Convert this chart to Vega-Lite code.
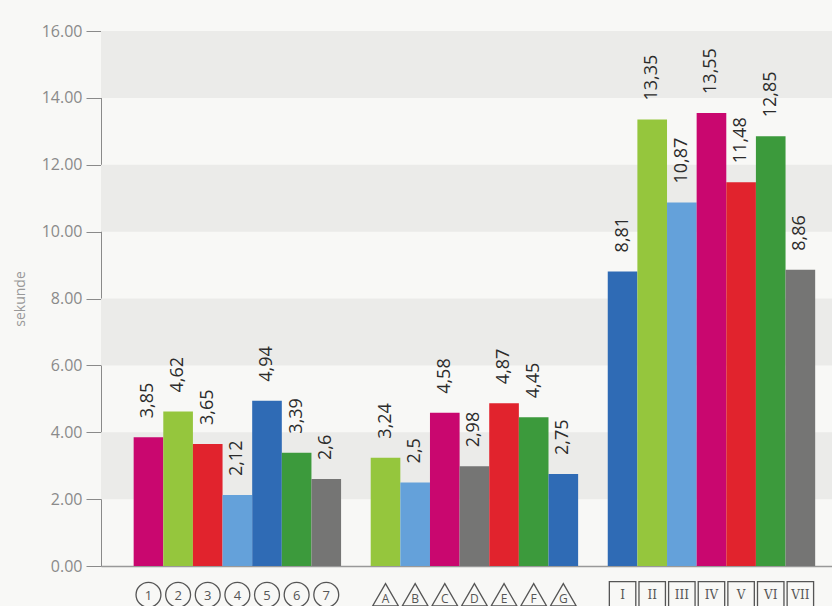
{
  "$schema": "https://vega.github.io/schema/vega-lite/v6.json",
  "width": 731,
  "height": 535,
  "autosize": "none",
  "padding": {"left": 101, "top": 31, "right": 0, "bottom": 40},
  "background": "#f8f8f6",
  "config": {
    "view": {"stroke": null},
    "font": "Open Sans"
  },
  "datasets": {
    "bars": [
      {"g": "circle", "sym": "1", "p": "p1", "v": 3.85, "lbl": "3,85"},
      {"g": "circle", "sym": "2", "p": "p2", "v": 4.62, "lbl": "4,62"},
      {"g": "circle", "sym": "3", "p": "p3", "v": 3.65, "lbl": "3,65"},
      {"g": "circle", "sym": "4", "p": "p4", "v": 2.12, "lbl": "2,12"},
      {"g": "circle", "sym": "5", "p": "p5", "v": 4.94, "lbl": "4,94"},
      {"g": "circle", "sym": "6", "p": "p6", "v": 3.39, "lbl": "3,39"},
      {"g": "circle", "sym": "7", "p": "p7", "v": 2.6, "lbl": "2,6"},
      {"g": "triangle", "sym": "A", "p": "p2", "v": 3.24, "lbl": "3,24"},
      {"g": "triangle", "sym": "B", "p": "p4", "v": 2.5, "lbl": "2,5"},
      {"g": "triangle", "sym": "C", "p": "p1", "v": 4.58, "lbl": "4,58"},
      {"g": "triangle", "sym": "D", "p": "p7", "v": 2.98, "lbl": "2,98"},
      {"g": "triangle", "sym": "E", "p": "p3", "v": 4.87, "lbl": "4,87"},
      {"g": "triangle", "sym": "F", "p": "p6", "v": 4.45, "lbl": "4,45"},
      {"g": "triangle", "sym": "G", "p": "p5", "v": 2.75, "lbl": "2,75"},
      {"g": "square", "sym": "I", "p": "p5", "v": 8.81, "lbl": "8,81"},
      {"g": "square", "sym": "II", "p": "p2", "v": 13.35, "lbl": "13,35"},
      {"g": "square", "sym": "III", "p": "p4", "v": 10.87, "lbl": "10,87"},
      {"g": "square", "sym": "IV", "p": "p1", "v": 13.55, "lbl": "13,55"},
      {"g": "square", "sym": "V", "p": "p3", "v": 11.48, "lbl": "11,48"},
      {"g": "square", "sym": "VI", "p": "p6", "v": 12.85, "lbl": "12,85"},
      {"g": "square", "sym": "VII", "p": "p7", "v": 8.86, "lbl": "8,86"}
    ],
    "bands": [
      {"lo": 14, "hi": 16},
      {"lo": 10, "hi": 12},
      {"lo": 6, "hi": 8},
      {"lo": 2, "hi": 4}
    ]
  },
  "layer": [
    {
      "data": {"name": "bands"},
      "mark": {"type": "rect", "color": "#ebebe9"},
      "encoding": {
        "y": {
          "field": "lo", "type": "quantitative",
          "scale": {"domain": [0, 16], "nice": false},
          "axis": {
            "title": "sekunde", "titleFontSize": 14, "titleFontWeight": "normal", "titleColor": "#999", "titlePadding": 14,
            "values": [0, 2, 4, 6, 8, 10, 12, 14, 16], "format": ".2f",
            "labelFontSize": 16, "labelColor": "#8a8a8a", "labelPadding": 4,
            "tickSize": 15, "tickColor": "#8a8a8a", "domainColor": "#8a8a8a",
            "grid": false
          }
        },
        "y2": {"field": "hi"}
      }
    },
    {
      "data": {"name": "bars"},
      "layer": [
        {
          "mark": {"type": "bar"},
          "encoding": {
            "x": {
              "field": "sym", "type": "ordinal",
              "scale": {
                "domain": ["1","2","3","4","5","6","7","gap1","A","B","C","D","E","F","G","gap2","I","II","III","IV","V","VI","VII"],
                "paddingInner": 0, "paddingOuter": 0.835, "align": 0.66
              },
              "axis": {"labels": false, "ticks": false, "title": null, "domainColor": "#999", "domainWidth": 1.5}
            },
            "y": {"field": "v", "type": "quantitative"},
            "color": {
              "field": "p", "type": "nominal", "legend": null,
              "scale": {
                "domain": ["p1","p2","p3","p4","p5","p6","p7"],
                "range": ["#c9076f","#95c63d","#e1232d","#64a1da","#2f6bb5","#3c9a3c","#757574"]
              }
            }
          }
        },
        {
          "mark": {"type": "text", "angle": 270, "align": "left", "baseline": "middle", "dx": 19, "fontSize": 18, "color": "#2b2b2b"},
          "encoding": {
            "x": {"field": "sym", "type": "ordinal", "band": 0.5},
            "y": {"field": "v", "type": "quantitative"},
            "text": {"field": "lbl"}
          }
        },
        {
          "mark": {"type": "point", "filled": false, "stroke": "#555", "strokeWidth": 1.3, "opacity": 1},
          "encoding": {
            "x": {"field": "sym", "type": "ordinal"},
            "y": {"datum": -0.86},
            "shape": {
              "field": "g", "type": "nominal", "legend": null,
              "scale": {"domain": ["circle", "triangle", "square"], "range": ["circle", "triangle-up", "square"]}
            },
            "size": {
              "field": "g", "type": "nominal", "legend": null,
              "scale": {"domain": ["circle", "triangle", "square"], "range": [620, 700, 500]}
            }
          }
        },
        {
          "transform": [{"filter": "datum.g == 'circle'"}],
          "mark": {"type": "text", "baseline": "middle", "fontSize": 13, "color": "#555", "dy": 1},
          "encoding": {
            "x": {"field": "sym", "type": "ordinal"},
            "y": {"datum": -0.86},
            "text": {"field": "sym"}
          }
        },
        {
          "transform": [{"filter": "datum.g == 'triangle'"}],
          "mark": {"type": "text", "baseline": "middle", "fontSize": 12, "color": "#555", "dy": 4},
          "encoding": {
            "x": {"field": "sym", "type": "ordinal"},
            "y": {"datum": -0.86},
            "text": {"field": "sym"}
          }
        },
        {
          "transform": [{"filter": "datum.g == 'square'"}],
          "mark": {"type": "text", "baseline": "middle", "fontSize": 12, "font": "DejaVu Serif", "color": "#555"},
          "encoding": {
            "x": {"field": "sym", "type": "ordinal"},
            "y": {"datum": -0.86},
            "text": {"field": "sym"}
          }
        }
      ]
    }
  ]
}
